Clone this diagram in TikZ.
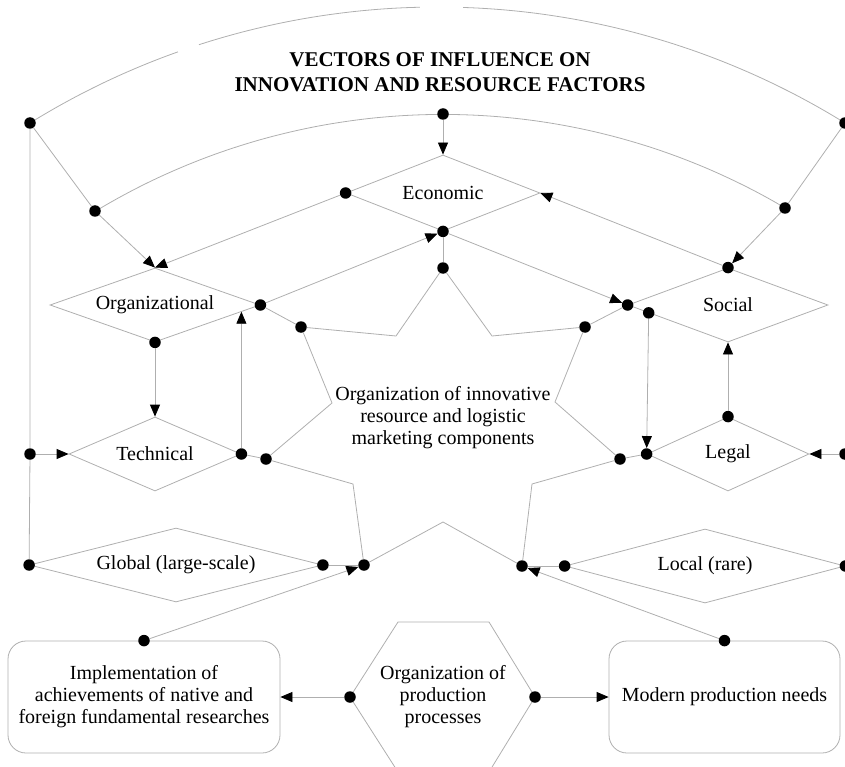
\documentclass[tikz,border=0pt]{standalone}
\usepackage{fontspec}
\setmainfont{Liberation Serif}
\usetikzlibrary{shapes.geometric,arrows.meta,calc}
\definecolor{linegray}{RGB}{175,175,175}

\begin{document}
\begin{tikzpicture}[x=1pt,y=-1pt,
	font=\fontsize{20}{22}\selectfont,
	link/.style={draw=linegray,line width=0.8pt},
	arr/.style={link,-{Triangle[length=12pt,width=10pt,color=black,fill=black]}},
	junction/.style={circle,fill=black,inner sep=0pt,minimum size=11.5pt},
	factor/.style={diamond,draw=linegray,line width=0.8pt,inner sep=0pt,aspect=3.5,minimum height=74pt},
	block/.style={rectangle,rounded corners=18pt,draw=linegray,line width=0.8pt,align=center,minimum height=112pt}]
	\useasboundingbox (0,0) rectangle (845,767);
	\clip (0,0) rectangle (845,767);

	\node[align=center,font=\bfseries\fontsize{21}{24.5}\selectfont] (title) at (440,72) {VECTORS OF INFLUENCE ON\\INNOVATION AND RESOURCE FACTORS};

	\draw[link,domain=109.6:121.77,samples=20,smooth] plot ({437.5+774*cos(\x)},{781-774*sin(\x)});
	\draw[link,domain=91.3:107.95,samples=20,smooth] plot ({437.5+774*cos(\x)},{781-774*sin(\x)});
	\draw[link,domain=58.23:88.11,samples=30,smooth] plot ({437.5+774*cos(\x)},{781-774*sin(\x)});
	\draw[link,domain=59.44:121.16,samples=50,smooth] plot ({443+672.6*cos(\x)},{787-672.6*sin(\x)});

	\node[factor,minimum width=194pt,minimum height=76pt] (econ) at (443,193) {Economic};
	\node[factor,minimum width=210pt] (org) at (155,305) {Organizational};
	\node[factor,minimum width=200pt] (soc) at (728,305) {Social};
	\node[factor,minimum width=172pt] (tech) at (155,454) {Technical};
	\node[factor,minimum width=162pt] (leg) at (728,454) {Legal};
	\node[factor,minimum width=293pt] (glob) at (176,565) {Global (large-scale)};
	\node[factor,minimum width=280pt] (loc) at (705,566) {Local (rare)};

	\node[align=center] (core) at (443,418) {Organization of innovative\\resource and logistic\\marketing components};

	\node[block,minimum width=272pt] (impl) at (144,697) {Implementation of\\achievements of native and\\foreign fundamental researches};
	\node[block,minimum width=231pt] (need) at (724.5,697) {Modern production needs};
	\node[align=center] (prod) at (443,697) {Organization of\\production\\processes};
	\draw[link] (398,622) -- (489,622) -- (535,697) -- (489,772) -- (398,772) -- (350,697) -- cycle;

	\node[junction] (l1) at (30,123) {};
	\node[junction] (r1) at (845,123) {};
	\node[junction] (l2) at (95,211) {};
	\node[junction] (e0) at (443,114) {};
	\node[junction] (r2) at (785,208) {};
	\node[junction] (ew) at (econ.west) {};
	\node[junction] (es) at (econ.south) {};
	\node[junction] (oe) at (org.east) {};
	\node[junction] (os) at (org.south) {};
	\node[junction] (te) at (tech.east) {};
	\node[junction] (t0) at (l1 |- tech.west) {};
	\node[junction] (sn) at (soc.north) {};
	\node[junction] (sw) at (soc.west) {};
	\node[junction] (sl) at ($(soc.west)!0.21!(soc.south)$) {};
	\node[junction] (ln) at (leg.north) {};
	\node[junction] (lw) at (leg.west) {};
	\node[junction] (rl) at (r1 |- leg.east) {};
	\node[junction] (gw) at (glob.west) {};
	\node[junction] (ge) at (glob.east) {};
	\node[junction] (cw) at (loc.west) {};
	\node[junction] (ce) at (loc.east) {};
	\node[junction] (hl) at (350,697) {};
	\node[junction] (hr) at (535,697) {};
	\node[junction] (it) at (impl.north) {};
	\node[junction] (nt) at (need.north) {};

	\node[junction] (s1) at (443,268) {};
	\coordinate (s2) at (396,336);
	\node[junction] (s3) at (301,327) {};
	\coordinate (s4) at (332,403);
	\node[junction] (s5) at (266,459) {};
	\coordinate (s6) at (353,484);
	\node[junction] (s7) at (364,565) {};
	\coordinate (s8) at (443,522);
	\node[junction] (s9) at (522,566) {};
	\coordinate (s10) at (532,484);
	\node[junction] (s11) at (620,459) {};
	\coordinate (s12) at (555,402);
	\node[junction] (s13) at (585,327) {};
	\coordinate (s14) at (492,336);
	\draw[link] (s1) -- (s2) -- (s3) -- (s4) -- (s5) -- (s6) -- (s7) -- (s8) -- (s9) -- (s10) -- (s11) -- (s12) -- (s13) -- (s14) -- (s1);

	\draw[link] (l1) -- (l2);
	\draw[arr] (l2) -- (org.north);
	\draw[link] (l1) -- (t0) -- (gw);
	\draw[arr] (t0) -- (tech.west);
	\draw[arr] (e0) -- (econ.north);
	\draw[arr] (ew) -- (org.north);
	\draw[arr] (oe) -- (es);
	\draw[arr] (es) -- (sw);
	\draw[link] (r1) -- (r2);
	\draw[arr] (r2) -- (sn);
	\draw[arr] (sn) -- (econ.east);
	\draw[link] (es) -- (s1);
	\draw[link] (oe) -- (s3);

	\draw[arr] (os) -- (tech.north);
	\coordinate (oedge) at ($(org.south)!0.82!(org.east)$);
	\draw[arr] (te) -- (te |- oedge);
	\draw[link] (te) -- (s5);
	\draw[arr] (sl) -- (lw);
	\draw[link] (sw) -- (s13);
	\draw[arr] (ln) -- (soc.south);
	\draw[link] (lw) -- (s11);
	\draw[arr] (rl) -- (leg.east);

	\draw[link] (ge) -- (s7);
	\draw[arr] (it) -- (s7);
	\draw[link] (cw) -- (s9);
	\draw[arr] (nt) -- (s9);
	\draw[arr] (hl) -- (impl.east);
	\draw[arr] (hr) -- (need.west);
\end{tikzpicture}
\end{document}
